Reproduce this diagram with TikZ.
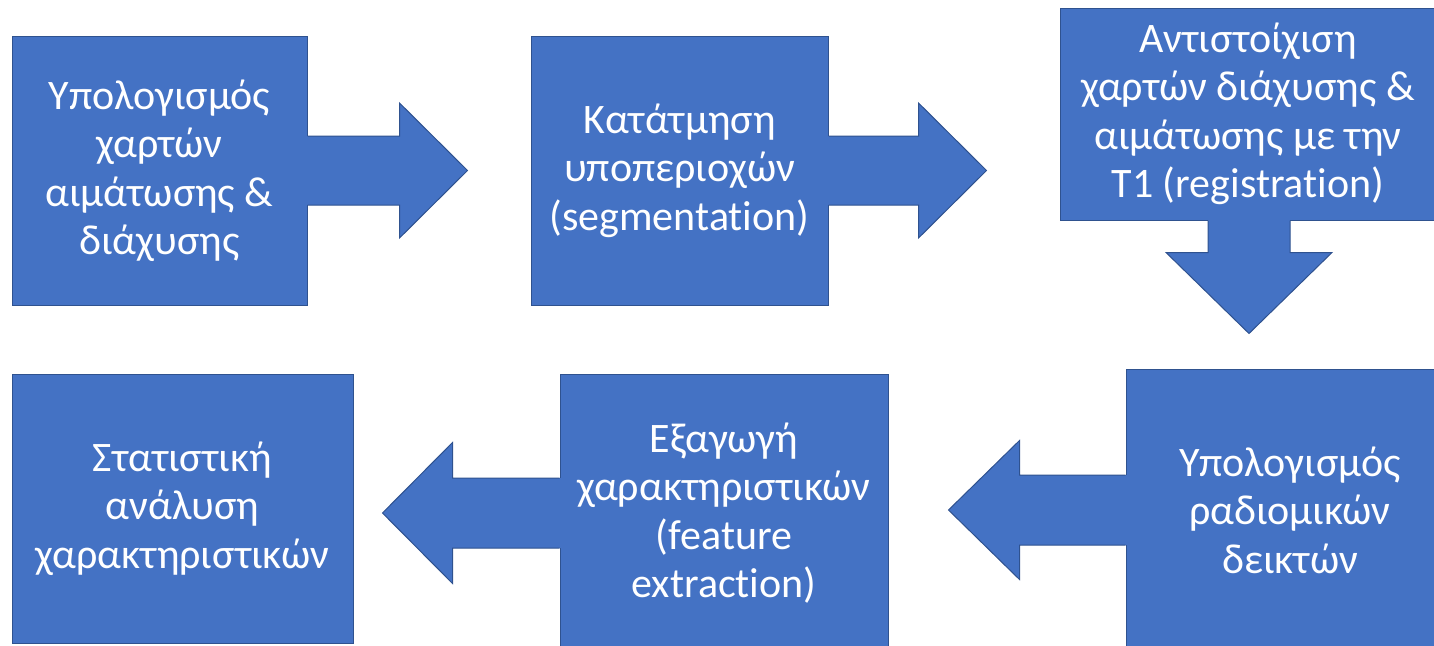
\documentclass[tikz,border=0pt]{standalone}
\usepackage{fontspec}
\setmainfont[Ligatures={NoCommon}]{Carlito}
\usetikzlibrary{calc}
\definecolor{boxfill}{HTML}{4472C4}
\definecolor{boxline}{HTML}{2F528F}
\tikzset{
  stepbox/.style={draw=boxline, fill=boxfill, line width=1pt, inner sep=0pt,
    text=white, align=center, font=\fontsize{42}{48.5}\selectfont},
  arrowfill/.style={fill=boxfill},
  arrowline/.style={draw=boxline, line width=1pt, line join=miter},
}
\begin{document}
\begin{tikzpicture}[x=1pt,y=-1pt]
\useasboundingbox (0,0) rectangle (1434,645);
\clip (0,0) rectangle (1434,645);
\node[stepbox, minimum width=295pt, minimum height=269pt] (b1) at (159.5,170.5)
  {Υπολογισμός\\χαρτών\\αιμάτωσης \&\\διάχυσης};
\node[stepbox, minimum width=297pt, minimum height=269pt] (b2) at (679.5,170.5)
  {Κατάτμηση\\υποπεριοχών\\(segmentation)};
\node[stepbox, minimum width=376pt, minimum height=212pt] (b3) at (1248,114)
  {Αντιστοίχιση\\χαρτών διάχυσης \&\\αιμάτωσης με την\\T1 (registration)};
\node[stepbox, minimum width=328pt, minimum height=282pt] (b4) at (1290,510)
  {Υπολογισμός\\ραδιομικών\\δεικτών};
\node[stepbox, minimum width=328pt, minimum height=278pt] (b5) at (724,513)
  {Εξαγωγή\\χαρακτηριστικών\\(feature\\extraction)};
\node[stepbox, minimum width=341pt, minimum height=269pt] (b6) at (182.5,508.5)
  {Στατιστική\\ανάλυση\\χαρακτηριστικών};
% arrow 1: b1 -> b2
\fill[arrowfill] ($(b1.east)+(-2,-34.5)$) -- ($(b1.east)+(92,-34.5)$) -- ($(b1.east)+(92,-67.5)$)
  -- ($(b1.east)+(160,0)$) -- ($(b1.east)+(92,67.5)$) -- ($(b1.east)+(92,34.5)$) -- ($(b1.east)+(-2,34.5)$) -- cycle;
\draw[arrowline] ($(b1.east)+(0,-34.5)$) -- ($(b1.east)+(92,-34.5)$) -- ($(b1.east)+(92,-67.5)$)
  -- ($(b1.east)+(160,0)$) -- ($(b1.east)+(92,67.5)$) -- ($(b1.east)+(92,34.5)$) -- ($(b1.east)+(0,34.5)$);
% arrow 2: b2 -> b3
\fill[arrowfill] ($(b2.east)+(-2,-34.5)$) -- ($(b2.east)+(90,-34.5)$) -- ($(b2.east)+(90,-67.5)$)
  -- ($(b2.east)+(158,0)$) -- ($(b2.east)+(90,67.5)$) -- ($(b2.east)+(90,34.5)$) -- ($(b2.east)+(-2,34.5)$) -- cycle;
\draw[arrowline] ($(b2.east)+(0,-34.5)$) -- ($(b2.east)+(90,-34.5)$) -- ($(b2.east)+(90,-67.5)$)
  -- ($(b2.east)+(158,0)$) -- ($(b2.east)+(90,67.5)$) -- ($(b2.east)+(90,34.5)$) -- ($(b2.east)+(0,34.5)$);
% arrow 3: b3 -> b4 (down)
\coordinate (a3) at ($(b3.south)+(1,0)$);
\fill[arrowfill] ($(a3)+(-41,-2)$) -- ($(a3)+(-41,32)$) -- ($(a3)+(-83,32)$)
  -- ($(a3)+(0,113)$) -- ($(a3)+(83,32)$) -- ($(a3)+(41,32)$) -- ($(a3)+(41,-2)$) -- cycle;
\draw[arrowline] ($(a3)+(-41,0)$) -- ($(a3)+(-41,32)$) -- ($(a3)+(-83,32)$)
  -- ($(a3)+(0,113)$) -- ($(a3)+(83,32)$) -- ($(a3)+(41,32)$) -- ($(a3)+(41,0)$);
% arrow 4: b4 -> b5 (left)
\fill[arrowfill] ($(b4.west)+(2,-35)$) -- ($(b4.west)+(-106,-35)$) -- ($(b4.west)+(-106,-69.5)$)
  -- ($(b4.west)+(-177,0)$) -- ($(b4.west)+(-106,69.5)$) -- ($(b4.west)+(-106,35)$) -- ($(b4.west)+(2,35)$) -- cycle;
\draw[arrowline] ($(b4.west)+(0,-35)$) -- ($(b4.west)+(-106,-35)$) -- ($(b4.west)+(-106,-69.5)$)
  -- ($(b4.west)+(-177,0)$) -- ($(b4.west)+(-106,69.5)$) -- ($(b4.west)+(-106,35)$) -- ($(b4.west)+(0,35)$);
% arrow 5: b5 -> b6 (left)
\fill[arrowfill] ($(b5.west)+(2,-35)$) -- ($(b5.west)+(-107,-35)$) -- ($(b5.west)+(-107,-70.5)$)
  -- ($(b5.west)+(-177,0)$) -- ($(b5.west)+(-107,70.5)$) -- ($(b5.west)+(-107,35)$) -- ($(b5.west)+(2,35)$) -- cycle;
\draw[arrowline] ($(b5.west)+(0,-35)$) -- ($(b5.west)+(-107,-35)$) -- ($(b5.west)+(-107,-70.5)$)
  -- ($(b5.west)+(-177,0)$) -- ($(b5.west)+(-107,70.5)$) -- ($(b5.west)+(-107,35)$) -- ($(b5.west)+(0,35)$);
\end{tikzpicture}
\end{document}
